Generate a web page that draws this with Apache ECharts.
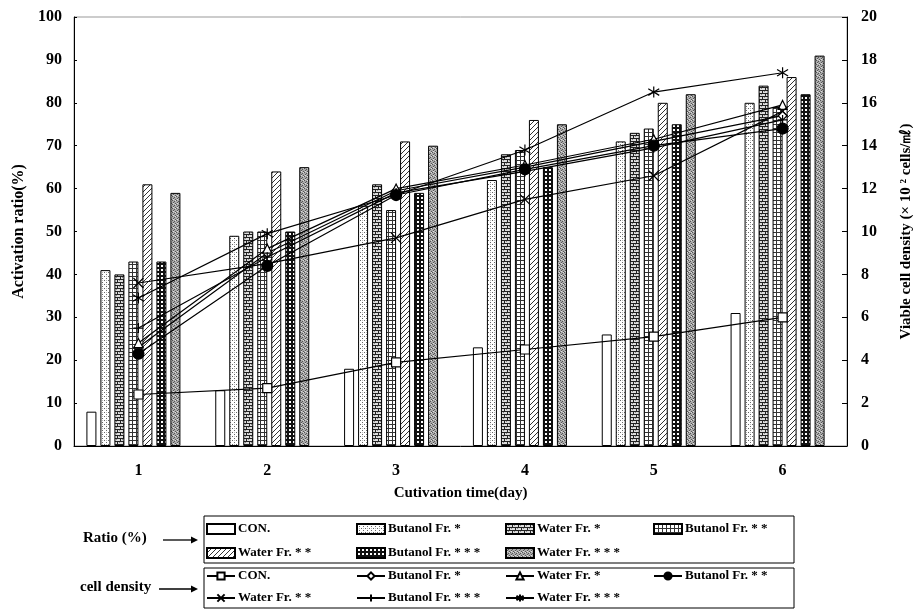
<!DOCTYPE html>
<html>
<head>
<meta charset="utf-8">
<script src="https://cdn.jsdelivr.net/npm/echarts@6/dist/echarts.min.js"></script>
<style>html,body{margin:0;padding:0;background:#fff}#c{width:922px;height:610px}</style>
</head>
<body>
<div id="c"></div>
<script>
// ---- data ----
const days = ['1', '2', '3', '4', '5', '6'];
const yLeftTicks = [0, 100, 10];   // min, max, step
const yRightTicks = [0, 20, 2];

// Activation ratio (%) - bars
const ratioCON      = [8, 13, 18, 23, 26, 31];
const ratioButanol1 = [41, 49, 56, 62, 71, 80];
const ratioWater1   = [40, 50, 61, 68, 73, 84];
const ratioButanol2 = [43, 50, 55, 69, 74, 79];
const ratioWater2   = [61, 64, 71, 76, 80, 86];
const ratioButanol3 = [43, 50, 59, 65, 75, 82];
const ratioWater3   = [59, 65, 70, 75, 82, 91];

// Viable cell density (x10^2 cells/ml) - lines
const cdCON      = [2.4, 2.7, 3.9, 4.5, 5.1, 6.0];
const cdButanol1 = [4.6, 9.0, 11.9, 13.0, 14.2, 15.4];
const cdWater1   = [4.8, 9.2, 12.0, 13.1, 14.3, 15.9];
const cdButanol2 = [4.3, 8.4, 11.7, 12.9, 14.0, 14.8];
const cdWater2   = [7.6, 8.5, 9.7, 11.5, 12.6, 15.6];
const cdButanol3 = [5.5, 8.8, 11.8, 12.8, 13.9, 15.2];
const cdWater3   = [6.9, 9.9, 11.7, 13.8, 16.5, 17.4];

const seriesNames = ['CON.', 'Butanol Fr. *', 'Water Fr. *', 'Butanol Fr. * *', 'Water Fr. * *', 'Butanol Fr. * * *', 'Water Fr. * * *'];

// ---- styling helpers ----
function tile(w, h, draw) {
  const c = document.createElement('canvas');
  c.width = w; c.height = h;
  const g = c.getContext('2d');
  draw(g);
  return { image: c, repeat: 'repeat' };
}
const patterns = [
  '#ffffff',
  tile(4, 4, g => { g.fillStyle = '#fff'; g.fillRect(0,0,4,4); g.fillStyle = '#666'; g.fillRect(0,0,1,1); g.fillRect(2,2,1,1); g.fillStyle='#bbb'; g.fillRect(2,0,1,1); }),
  tile(6, 6, g => { g.fillStyle = '#ddd'; g.fillRect(0,0,6,6); g.fillStyle = '#222'; g.fillRect(0,0,6,1); g.fillRect(0,3,6,1); g.fillRect(0,0,1,3); g.fillRect(3,3,1,3); g.fillStyle='#888'; g.fillRect(2,1,1,1); g.fillRect(5,4,1,1); }),
  tile(4, 4, g => { g.fillStyle = '#fff'; g.fillRect(0,0,4,4); g.fillStyle = '#333'; g.fillRect(0,0,4,1); g.fillRect(0,0,1,4); }),
  tile(5, 5, g => { g.fillStyle = '#fff'; g.fillRect(0,0,5,5); g.fillStyle = '#333'; for (let i=0;i<5;i++) g.fillRect(4-i,i,1,1); }),
  tile(4, 4, g => { g.fillStyle = '#111'; g.fillRect(0,0,4,4); g.fillStyle = '#fff'; g.fillRect(1,1,2,2); }),
  tile(4, 4, g => { g.fillStyle = '#aaa'; g.fillRect(0,0,4,4); g.fillStyle = '#555'; g.fillRect(0,0,1,1); g.fillRect(2,1,1,1); g.fillRect(1,2,1,1); g.fillRect(3,3,1,1); g.fillStyle='#ddd'; g.fillRect(3,0,1,1); g.fillRect(1,3,1,1); })
];
const symbols = [
  'rect', 'diamond', 'triangle', 'circle',
  'path://M0,0L10,10M10,0L0,10',
  'path://M5,0L5,10M0,5L10,5',
  'path://M5,0L5,10M0,2L10,8M10,2L0,8'
];
const symbolSizes = [9, 9, 9, 11, 10, 10, 11];

const ratioData = [ratioCON, ratioButanol1, ratioWater1, ratioButanol2, ratioWater2, ratioButanol3, ratioWater3];
const cdData = [cdCON, cdButanol1, cdWater1, cdButanol2, cdWater2, cdButanol3, cdWater3];

const serif = '"Liberation Serif", "Times New Roman", serif';
const series = [];
ratioData.forEach((d, i) => {
  series.push({
    type: 'bar', name: 'r:' + seriesNames[i], data: d,
    xAxisIndex: 0, yAxisIndex: 0, barWidth: 10, barGap: '40%',
    itemStyle: { color: patterns[i], borderColor: '#000', borderWidth: 1 }
  });
});
cdData.forEach((d, i) => {
  series.push({
    type: 'line', name: 'c:' + seriesNames[i], data: d,
    xAxisIndex: 1, yAxisIndex: 2,
    symbol: symbols[i], symbolSize: symbolSizes[i],
    lineStyle: { color: '#000', width: 1.2 },
    itemStyle: { color: i === 3 ? '#000' : '#fff', borderColor: '#000', borderWidth: 1.2 },
    z: 5
  });
});

function legendCol(prefix, names, left, top, gap, iw, ih, icon) {
  const l = {
    orient: 'vertical', left: left, top: top, itemGap: gap,
    itemWidth: iw, itemHeight: ih, padding: 0, selectedMode: false,
    data: names.map(n => prefix + n),
    formatter: n => n.slice(2),
    textStyle: { fontFamily: serif, fontWeight: 'bold', fontSize: 13, color: '#000', lineHeight: 14, padding: [0,0,0,-2] }
  };
  if (icon) l.icon = icon;
  return l;
}
const cols = [206, 356, 505, 653];
const colItems = [[0, 4], [1, 5], [2, 6], [3]];
const legends = [];
colItems.forEach((idx, k) => {
  legends.push(legendCol('r:', idx.map(j => seriesNames[j]), cols[k], 522, 10, 28, 10, 'rect'));
});
colItems.forEach((idx, k) => {
  legends.push(legendCol('c:', idx.map(j => seriesNames[j]), cols[k], 569, 8, 28, 9));
});

function arrow(x1, x2, y) {
  return [
    { type: 'line', shape: { x1: x1, y1: y, x2: x2 - 5, y2: y }, style: { stroke: '#000', lineWidth: 1.3 } },
    { type: 'polygon', shape: { points: [[x2 - 7, y - 3.5], [x2, y], [x2 - 7, y + 3.5]] }, style: { fill: '#000' } }
  ];
}

const chart = echarts.init(document.getElementById('c'), null, { renderer: 'canvas' });
chart.setOption({
  animation: false,
  backgroundColor: '#fff',
  grid: [
    { left: 69, right: 80, top: 17, bottom: 164, show: false },
    { left: 74, right: 75, top: 17, bottom: 164, show: true, borderColor: '#999', borderWidth: 1, backgroundColor: 'transparent' }
  ],
  xAxis: [
    { type: 'category', gridIndex: 0, data: days, show: false },
    {
      type: 'category', gridIndex: 1, data: days,
      axisLine: { lineStyle: { color: '#000', width: 1 } },
      axisTick: { inside: true, length: 4, lineStyle: { color: '#000' } },
      axisLabel: { margin: 17, fontFamily: serif, fontWeight: 'bold', fontSize: 16, color: '#000' },
      name: 'Cutivation time(day)', nameLocation: 'middle', nameGap: 40,
      nameTextStyle: { fontFamily: serif, fontWeight: 'bold', fontSize: 15, color: '#000' }
    }
  ],
  yAxis: [
    { type: 'value', gridIndex: 0, min: yLeftTicks[0], max: yLeftTicks[1], interval: yLeftTicks[2], show: false },
    {
      type: 'value', gridIndex: 1, position: 'left', min: yLeftTicks[0], max: yLeftTicks[1], interval: yLeftTicks[2],
      axisLine: { show: true, lineStyle: { color: '#000' } },
      axisTick: { show: true, inside: true, length: 3, lineStyle: { color: '#000' } },
      splitLine: { show: false },
      axisLabel: { margin: 12, fontFamily: serif, fontWeight: 'bold', fontSize: 16, color: '#000' },
      name: 'Activation ratio(%)', nameLocation: 'middle', nameGap: 44, nameRotate: 90,
      nameTextStyle: { fontFamily: serif, fontWeight: 'bold', fontSize: 16, color: '#000' }
    },
    {
      type: 'value', gridIndex: 1, position: 'right', min: yRightTicks[0], max: yRightTicks[1], interval: yRightTicks[2],
      axisLine: { show: true, lineStyle: { color: '#000' } },
      axisTick: { show: true, inside: true, length: 5, lineStyle: { color: '#000' } },
      splitLine: { show: false },
      axisLabel: { margin: 14, fontFamily: serif, fontWeight: 'bold', fontSize: 16, color: '#000' },
      name: 'Viable cell density (× 10 ² cells/㎖)', nameLocation: 'middle', nameGap: 52, nameRotate: 90,
      nameTextStyle: { fontFamily: serif, fontWeight: 'bold', fontSize: 15, color: '#000' }
    }
  ],
  legend: legends,
  graphic: [
    { type: 'rect', shape: { x: 204, y: 516, width: 590, height: 47 }, style: { fill: 'none', stroke: '#000', lineWidth: 1 } },
    { type: 'rect', shape: { x: 204, y: 568, width: 590, height: 40 }, style: { fill: 'none', stroke: '#000', lineWidth: 1 } },
    { type: 'text', left: 83, top: 531, style: { text: 'Ratio (%)', font: 'bold 15px ' + serif, fill: '#000' } },
    { type: 'text', left: 80, top: 580, style: { text: 'cell density', font: 'bold 15px ' + serif, fill: '#000' } },
    ...arrow(163, 198, 540),
    ...arrow(159, 198, 589)
  ],
  series: series
});
</script>
</body>
</html>
